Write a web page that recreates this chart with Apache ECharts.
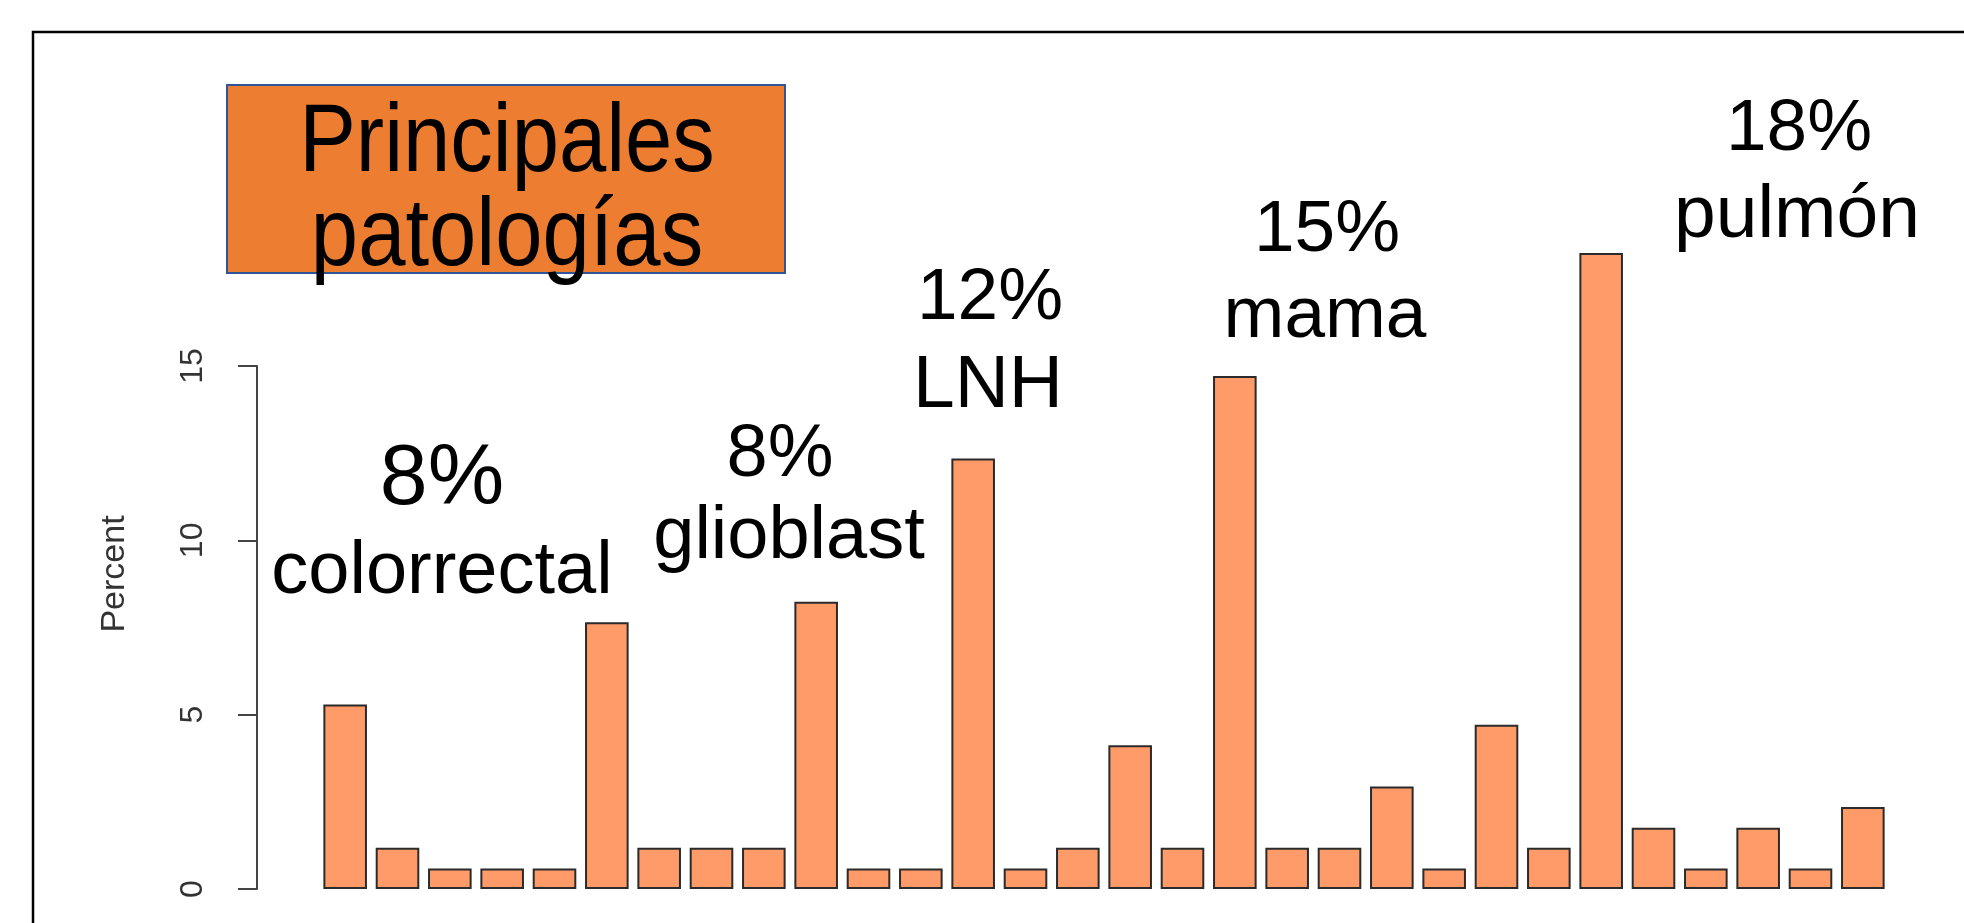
<!DOCTYPE html>
<html>
<head>
<meta charset="utf-8">
<title>Principales patologías</title>
<script src="https://cdn.jsdelivr.net/npm/echarts@6/dist/echarts.min.js"></script>
<style>
  html, body { margin: 0; padding: 0; background: #fff; }
  #main { width: 1964px; height: 923px; }
</style>
</head>
<body>
<div id="main"></div>
<script>
// datos: porcentaje de casos por patología (n = 170)
var categories = ['1', '2', '3', '4', '5', '6', '7', '8', '9', '10',
    '11', '12', '13', '14', '15', '16', '17', '18', '19', '20',
    '21', '22', '23', '24', '25', '26', '27', '28', '29', '30'];
var percent = [5.29, 1.18, 0.59, 0.59, 0.59, 7.65, 1.18, 1.18, 1.18, 8.24,
    0.59, 0.59, 12.35, 0.59, 1.18, 4.12, 1.18, 14.71, 1.18, 1.18,
    2.94, 0.59, 4.71, 1.18, 18.24, 1.76, 0.59, 1.76, 0.59, 2.35];
var yTicks = [0, 5, 10, 15];

// anotaciones encima de las barras
var notePct = ['8%', '8%', '12%', '15%', '18%'];
var noteName = ['colorrectal', 'glioblast', 'LNH', 'mama', 'pulmón'];

var FONT = '"Liberation Sans", Arial, sans-serif';

// posiciones de las anotaciones (x centro, linea base de cada linea, tamaño)
var notePos = [
    { x1: 442, b1: 503, f1: 86, x2: 442, b2: 592, f2: 74 },
    { x1: 780, b1: 475, f1: 74, x2: 789, b2: 557, f2: 74 },
    { x1: 990, b1: 318, f1: 73, x2: 988, b2: 406, f2: 75 },
    { x1: 1327, b1: 250, f1: 73, x2: 1325, b2: 336, f2: 73 },
    { x1: 1799, b1: 149, f1: 73, x2: 1797, b2: 236, f2: 75 }
];

function textEl(str, x, baseline, size, sy) {
    sy = sy || 1;
    return {
        type: 'text',
        x: x,
        y: baseline - 0.26 * size * sy,
        scaleY: sy,
        z: 10,
        style: {
            text: str,
            fill: '#000',
            font: size + 'px ' + FONT,
            textAlign: 'center',
            textVerticalAlign: 'middle'
        }
    };
}

var graphics = [
    // marco
    {
        type: 'rect',
        shape: { x: 33, y: 32, width: 1960, height: 920 },
        style: { fill: 'none', stroke: '#000', lineWidth: 2.5 },
        z: 1
    },
    // caja del titulo
    {
        type: 'rect',
        shape: { x: 227, y: 85, width: 558, height: 188 },
        style: { fill: '#ED7D31', stroke: '#2F5597', lineWidth: 2 },
        z: 5
    },
    textEl('Principales', 507, 169, 85, 1.13),
    textEl('patologías', 507, 263, 85, 1.13),
    // titulo del eje y
    {
        type: 'text',
        x: 115,
        y: 574,
        rotation: Math.PI / 2,
        z: 10,
        style: {
            text: 'Percent',
            fill: '#333',
            font: '34px ' + FONT,
            textAlign: 'center',
            textVerticalAlign: 'middle'
        }
    }
];
notePct.forEach(function (p, i) {
    var pos = notePos[i];
    graphics.push(textEl(p, pos.x1, pos.b1, pos.f1));
    graphics.push(textEl(noteName[i], pos.x2, pos.b2, pos.f2));
});

var myChart = echarts.init(document.getElementById('main'));

var option = {
    animation: false,
    backgroundColor: '#fff',
    grid: {
        left: 319,
        right: 75,
        top: 366,
        bottom: 34
    },
    xAxis: {
        type: 'category',
        data: categories,
        axisLine: { show: false },
        axisTick: { show: false },
        axisLabel: { show: false }
    },
    yAxis: {
        type: 'value',
        min: yTicks[0],
        max: yTicks[yTicks.length - 1],
        interval: 5,
        offset: 62,
        axisLine: { show: true, lineStyle: { color: '#444', width: 2 } },
        axisTick: { show: true, length: 19, lineStyle: { color: '#444', width: 2 } },
        axisLabel: {
            rotate: 90,
            fontSize: 32,
            color: '#333',
            fontFamily: FONT,
            margin: 48
        },
        splitLine: { show: false }
    },
    series: [{
        type: 'bar',
        data: percent,
        clip: false,
        barCategoryGap: '16.7%',
        itemStyle: {
            color: '#FF9B69',
            borderColor: '#2b2b2b',
            borderWidth: 2
        }
    }],
    graphic: graphics
};
myChart.setOption(option);
</script>
</body>
</html>
